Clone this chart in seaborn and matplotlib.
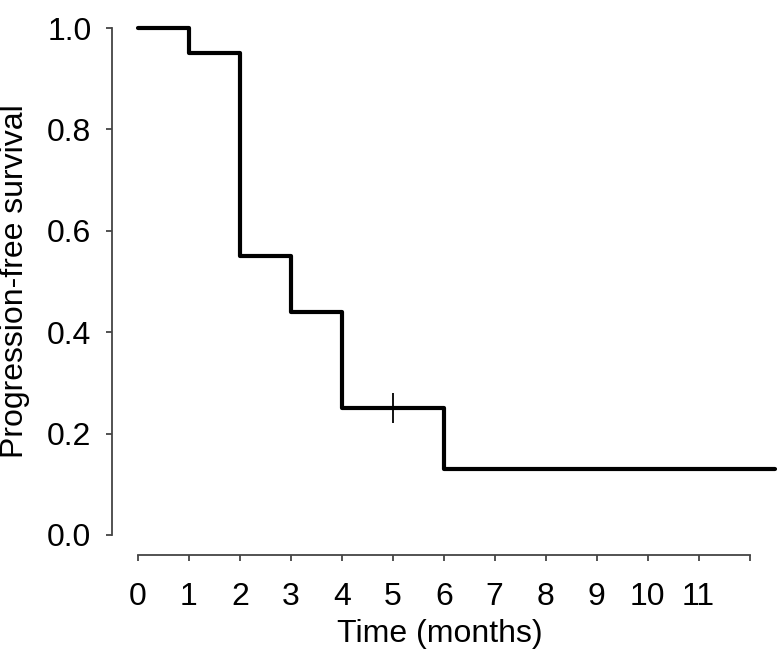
import numpy as np
import pandas as pd
import matplotlib
matplotlib.use("Agg")
import matplotlib.pyplot as plt
import seaborn as sns

# Kaplan-Meier estimate
TIME_MONTHS = [0, 1, 2, 3, 4, 6, 12.5]
SURVIVAL    = [1.0, 0.95, 0.55, 0.44, 0.25, 0.13, 0.13]
CENSOR_TIME = [5]
CENSOR_SURV = [0.25]
X_TICKS      = list(range(0, 13))
X_TICKLABELS = [str(t) for t in range(0, 12)] + [""]
Y_TICKS      = [0.0, 0.2, 0.4, 0.6, 0.8, 1.0]

sns.set_style("ticks")
plt.rcParams["font.family"] = ["Liberation Sans", "DejaVu Sans"]

df = pd.DataFrame({"time": TIME_MONTHS, "pfs": SURVIVAL})

fig = plt.figure(figsize=(7.81, 6.57), dpi=100)
ax = fig.add_axes([138 / 781, 1 - 535 / 657, (775 - 138) / 781, (535 - 28) / 657])

sns.lineplot(data=df, x="time", y="pfs", ax=ax, drawstyle="steps-post",
             color="black", linewidth=3.0, clip_on=False, estimator=None)
ax.plot(CENSOR_TIME, CENSOR_SURV, linestyle="none", marker="|",
        markersize=21, markeredgewidth=1.3, color="black", clip_on=False)

ax.set_xlim(0, 12.5)
ax.set_ylim(0, 1.0)
ax.set_xticks(X_TICKS)
ax.set_xticklabels(X_TICKLABELS)
ax.set_yticks(Y_TICKS)
ax.set_yticklabels([f"{v:.1f}" for v in Y_TICKS])

# offsets in points (dpi 100): ~26 px left, ~20 px below
sns.despine(ax=ax, offset={"left": 18.5, "bottom": 14.5}, trim=True)
for side in ("left", "bottom"):
    ax.spines[side].set_color("#444444")
    ax.spines[side].set_linewidth(1.3)

ax.tick_params(axis="both", labelsize=23, colors="#444444",
               labelcolor="black", length=4, width=1.3)
ax.tick_params(axis="y", pad=11)
ax.tick_params(axis="x", pad=15)

ax.set_xlabel("Time (months)", fontsize=23, color="black")
ax.set_ylabel("Progression-free survival", fontsize=23, color="black")
ax.xaxis.set_label_coords((440 - 138) / (775 - 138), -0.165)
ax.yaxis.set_label_coords((30 - 138) / (775 - 138), 0.5)

fig.savefig("out.png", dpi=100)
plt.close(fig)
